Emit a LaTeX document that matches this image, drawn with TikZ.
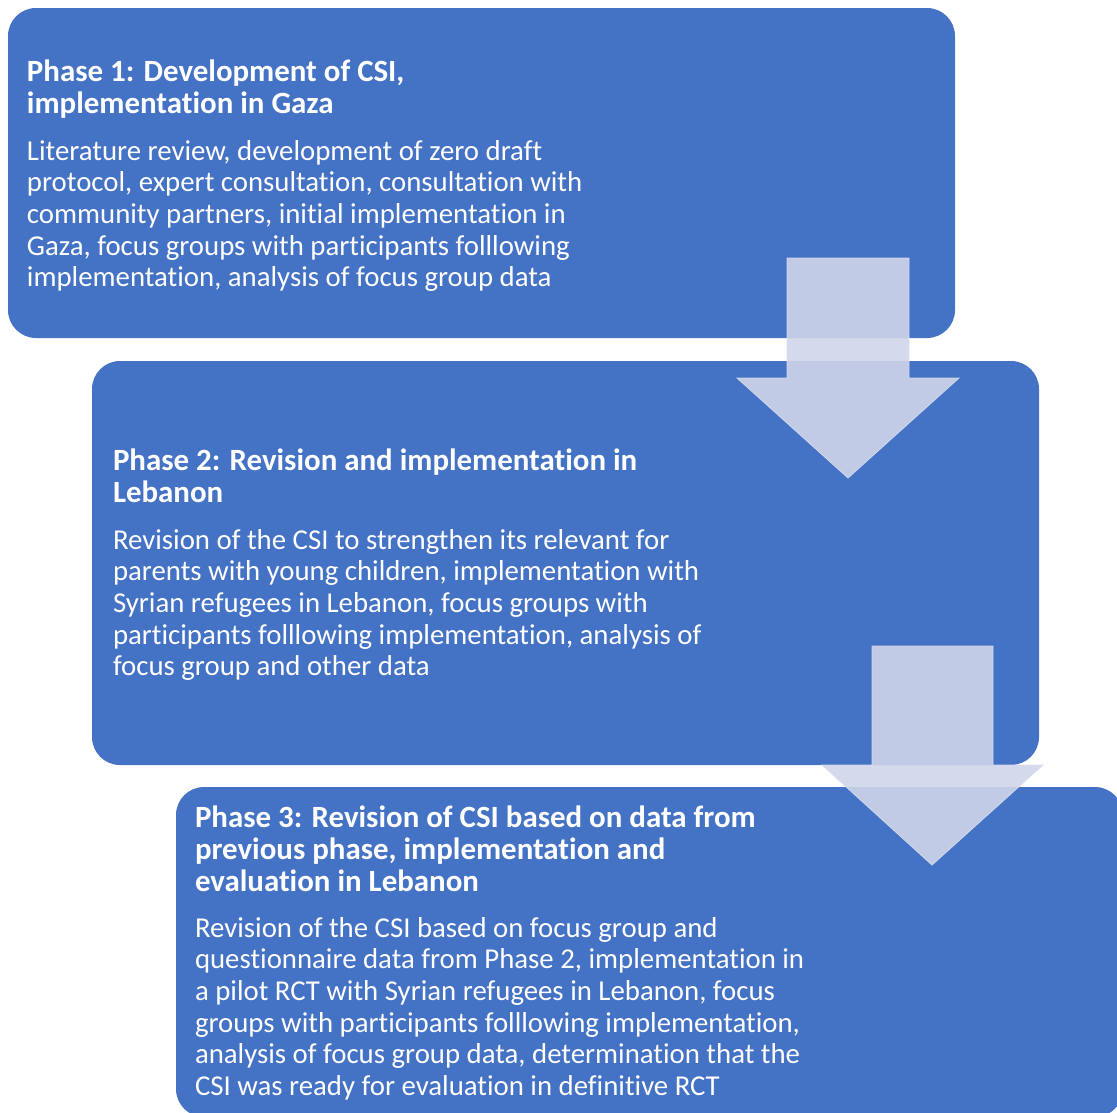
\documentclass[tikz,border=0pt]{standalone}
\usepackage{fontspec}
\setmainfont{Carlito}[Ligatures={NoCommon}]
\definecolor{boxblue}{HTML}{4472C4}
\definecolor{arrowfill}{HTML}{CFD5EA}
\definecolor{arrowline}{HTML}{D9DEEF}
\begin{document}
\begin{tikzpicture}[x=1pt,y=-1pt,
  phasebox/.style={fill=boxblue,draw=none,rounded corners=28pt,anchor=north west,minimum width=947pt,inner sep=0pt,outer sep=0pt},
  titletext/.style={anchor=north west,inner sep=0pt,outer sep=0pt,align=left,text=white,font=\fontsize{30.9}{32}\selectfont\bfseries},
  bodytext/.style={anchor=north west,inner sep=0pt,outer sep=0pt,align=left,text=white,font=\fontsize{28.8}{31.7}\selectfont},
  blockarrow/.style={fill=arrowfill,fill opacity=0.9,draw=arrowline,draw opacity=0.9,line width=0.8pt,line join=miter}]
\useasboundingbox (0,0) rectangle (1117,1112);
\clip (0,0) rectangle (1117,1112);
% boxes
\node[phasebox,minimum height=330pt] (b1) at (8,8) {};
\node[phasebox,minimum height=404pt] (b2) at (92,361) {};
\node[phasebox,minimum height=330pt] (b3) at (176,787) {};
% titles
\node[titletext] (t1) at (27,{81-22.4}) {\strut Phase 1: Development of CSI,\\
\strut implementation in Gaza};
\node[titletext] (t2) at (113,{470-22.4}) {\strut Phase 2: Revision and implementation in\\
\strut Lebanon};
\node[titletext] (t3) at (195,{827-22.4}) {\strut Phase 3: Revision of CSI based on data from\\
\strut previous phase, implementation and\\
\strut evaluation in Lebanon};
% bodies
\node[bodytext] (d1) at (27,{160-22.19}) {\strut Literature review, development of zero draft\\
\strut protocol, expert consultation, consultation with\\
\strut community partners, initial implementation in\\
\strut Gaza, focus groups with participants folllowing\\
\strut implementation, analysis of focus group data};
\node[bodytext] (d2) at (113,{549-22.19}) {\strut Revision of the CSI to strengthen its relevant for\\
\strut parents with young children, implementation with\\
\strut Syrian refugees in Lebanon, focus groups with\\
\strut participants folllowing implementation, analysis of\\
\strut focus group and other data};
\node[bodytext] (d3) at (195,{937-22.19}) {\strut Revision of the CSI based on focus group and\\
\strut questionnaire data from Phase 2, implementation in\\
\strut a pilot RCT with Syrian refugees in Lebanon, focus\\
\strut groups with participants folllowing implementation,\\
\strut analysis of focus group data, determination that the\\
\strut CSI was ready for evaluation in definitive RCT};
% block arrows
\draw[blockarrow] (787,258) -- (909,258) -- (909,378) -- (959,378) -- (848,478) -- (737,378) -- (787,378) -- cycle;
\draw[blockarrow] (872,646) -- (993,646) -- (993,765) -- (1043,765) -- (932,865) -- (822,765) -- (872,765) -- cycle;
\end{tikzpicture}
\end{document}
